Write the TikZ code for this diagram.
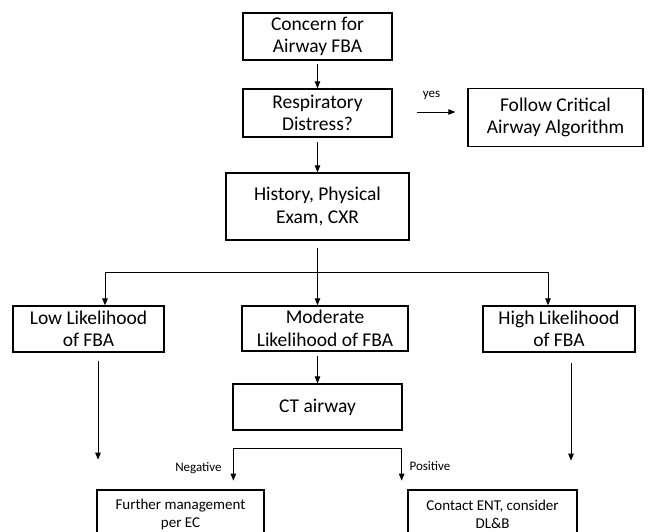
\documentclass[tikz,border=0pt]{standalone}
\usepackage{fontspec}
\setmainfont{Carlito}
\usetikzlibrary{arrows.meta}
\begin{document}
\begin{tikzpicture}[x=1pt,y=-1pt,
  box/.style={draw=black,line width=1.3pt,rectangle,inner sep=0pt,align=center,font=\fontsize{19.5}{22.5}\selectfont,text=black},
  smallbox/.style={box,font=\fontsize{15}{18}\selectfont},
  conn/.style={line width=0.9pt,draw=black},
  arr/.style={conn,-{Triangle[length=7pt,width=5.5pt]}},
  lbl/.style={font=\fontsize{13}{15}\selectfont,inner sep=0pt,text=black}]
\clip (0,0) rectangle (648,531);
\useasboundingbox (0,0) rectangle (648,531);
\fill[white] (0,0) rectangle (648,531);

\node[box,minimum width=149pt,minimum height=47pt] (concern) at (317.5,36.5) {Concern for\\Airway FBA};
\node[box,minimum width=149pt,minimum height=48pt] (resp) at (317.5,113) {Respiratory\\Distress?};
\node[box,minimum width=175pt,minimum height=58pt] (follow) at (555.5,117.5) {Follow Critical\\Airway Algorithm};
\node[box,minimum width=183pt,minimum height=67pt] (history) at (317.5,206.5) {History, Physical\\Exam, CXR};
\node[box,minimum width=151pt,minimum height=46pt] (low) at (88.5,329) {Low Likelihood\\of FBA};
\node[box,minimum width=166pt,minimum height=45pt] (moderate) at (325,328.5) {Moderate\\Likelihood of FBA};
\node[box,minimum width=152pt,minimum height=46pt] (high) at (559,329) {High Likelihood\\of FBA};
\node[box,minimum width=169pt,minimum height=46pt] (ct) at (317.5,407) {CT airway};
\node[smallbox,minimum width=167pt,minimum height=48pt] (further) at (180.5,514) {Further management\\per EC};
\node[smallbox,minimum width=169pt,minimum height=48pt] (contact) at (492.5,514) {Contact ENT, consider\\DL\&B};

% top chain
\draw[arr] ([yshift=-3pt]concern.south) -- (resp.north);
\draw[arr] ([yshift=-4pt]resp.south) -- (history.north);

% yes branch
\path (resp.east) ++(24,-1) coordinate (ys);
\path (follow.west |- ys) ++(-12,0) coordinate (ye);
\draw[arr] (ys) -- (ye);
\node[lbl] (yes) at (431.5,95) {yes};

% history split
\coordinate (sl) at (105,272);
\coordinate (sr) at (548,272);
\draw[conn] (sl) -- (sr);
\draw[arr] ([yshift=-7pt]history.south) -- (history.south |- moderate.north);
\draw[arr] (sl) -- (sl |- low.north);
\draw[arr] (sr) -- (sr |- high.north);

% moderate to CT
\path (ct.north |- moderate.south) ++(0,4) coordinate (m1);
\draw[arr] (m1) -- (ct.north);

% low and high long arrows
\path (low.south) ++(9.5,8) coordinate (l1) ++(0,99) coordinate (l2);
\draw[arr] (l1) -- (l2);
\path (high.south) ++(12,10) coordinate (h1) ++(0,98) coordinate (h2);
\draw[arr] (h1) -- (h2);

% CT split
\path (ct.south west) ++(1,18) coordinate (cl) ++(0,32) coordinate (nl);
\path (ct.south east) ++(-1,18) coordinate (cr) ++(0,32) coordinate (pr);
\draw[conn] (cl) -- (cr);
\draw[arr] (cl) -- (nl);
\draw[arr] (cr) -- (pr);
\node[lbl] (neg) at (198.5,468) {Negative};
\node[lbl] (pos) at (430,466) {Positive};
\end{tikzpicture}
\end{document}
